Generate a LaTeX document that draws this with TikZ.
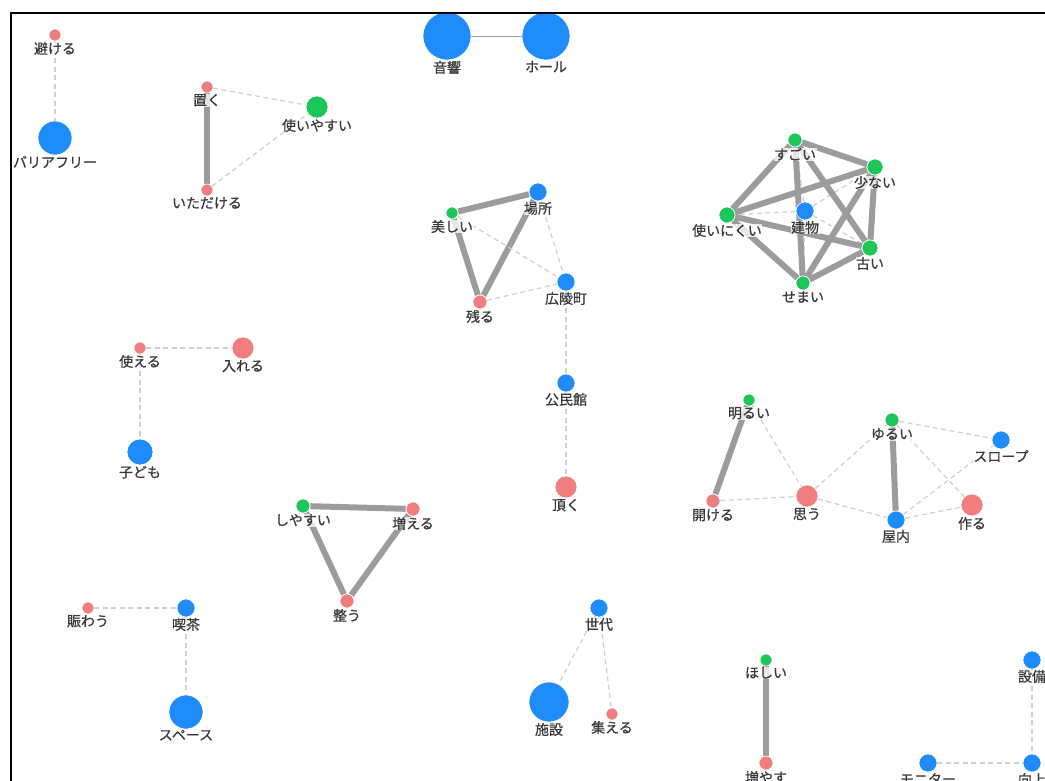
\documentclass[tikz,border=0pt]{standalone}
\usepackage{fontspec}
\newfontfamily\jp[FakeBold=0.6]{Noto Sans CJK JP}
\usetikzlibrary{backgrounds}
\definecolor{cblue}{HTML}{1E8CFA}
\definecolor{cred}{HTML}{F07E7E}
\definecolor{cgreen}{HTML}{1CC75A}
\definecolor{cstrong}{HTML}{9C9C9C}
\definecolor{cweak}{HTML}{CFCFCF}
\definecolor{ctext}{HTML}{3A3A3A}
\newcommand\Nd[6]{\node[vtx,fill=#5,minimum size=#4*2pt,label={[lbl]below:#6}] (#1) at (#2,#3) {};}
\begin{document}
\begin{tikzpicture}[x=1pt,y=-1pt,
  vtx/.style={circle,draw=white,line width=0.6pt,inner sep=0pt,label distance=0.5pt},
  lbl/.style={font=\jp\fontsize{14}{15}\selectfont,text=ctext,inner sep=0.5pt,fill=white,fill opacity=0.75,text opacity=1},
  strong/.style={draw=cstrong,line width=6pt},
  weak/.style={draw=cweak,line width=1.2pt,dash pattern=on 5pt off 3.5pt},
  thin/.style={draw=cstrong,line width=0.9pt}]
\useasboundingbox (0,0) rectangle (1045,780);
\begin{scope}
\clip (11,13) rectangle (1045,780);
\Nd{a1}{55}{35}{6}{cred}{避ける}
\Nd{a2}{55}{138}{17}{cblue}{バリアフリー}
\Nd{b1}{207}{87}{6}{cred}{置く}
\Nd{b2}{317}{107}{11}{cgreen}{使いやすい}
\Nd{b3}{207}{190}{6}{cred}{いただける}
\Nd{c1}{447}{36}{24}{cblue}{音響}
\Nd{c2}{546}{36}{24}{cblue}{ホール}
\Nd{d1}{795}{140}{7}{cgreen}{すごい}
\Nd{d2}{875}{167}{8}{cgreen}{少ない}
\Nd{d3}{727}{215}{8}{cgreen}{使いにくい}
\Nd{d4}{805}{211}{9}{cblue}{建物}
\Nd{d5}{870}{248}{8}{cgreen}{古い}
\Nd{d6}{803}{283}{7}{cgreen}{せまい}
\Nd{e1}{538}{192}{9}{cblue}{場所}
\Nd{e2}{452}{213}{6}{cgreen}{美しい}
\Nd{e3}{566}{282}{9}{cblue}{広陵町}
\Nd{e4}{480}{302}{7}{cred}{残る}
\Nd{e5}{566}{383}{9}{cblue}{公民館}
\Nd{e6}{566}{487}{11}{cred}{頂く}
\Nd{f1}{140}{348}{6}{cred}{使える}
\Nd{f2}{243}{348}{11}{cred}{入れる}
\Nd{f3}{140}{452}{13}{cblue}{子ども}
\Nd{g1}{303}{506}{7}{cgreen}{しやすい}
\Nd{g2}{413}{509}{7}{cred}{増える}
\Nd{g3}{347}{601}{7}{cred}{整う}
\Nd{h1}{749}{400}{6}{cgreen}{明るい}
\Nd{h2}{713}{501}{7}{cred}{開ける}
\Nd{h3}{807}{496}{11}{cred}{思う}
\Nd{h4}{892}{420}{7}{cgreen}{ゆるい}
\Nd{h5}{1001}{440}{9}{cblue}{スロープ}
\Nd{h6}{896}{520}{9}{cblue}{屋内}
\Nd{h7}{972}{505}{11}{cred}{作る}
\Nd{i1}{88}{608}{6}{cred}{賑わう}
\Nd{i2}{186}{608}{9}{cblue}{喫茶}
\Nd{i3}{186}{712}{17}{cblue}{スペース}
\Nd{j1}{599}{608}{9}{cblue}{世代}
\Nd{j2}{549}{702}{20}{cblue}{施設}
\Nd{j3}{612}{714}{6}{cred}{集える}
\Nd{k1}{766}{660}{6}{cgreen}{ほしい}
\Nd{k2}{766}{763}{7}{cred}{増やす}
\Nd{m1}{1032}{660}{9}{cblue}{設備}
\Nd{m2}{928}{763}{9}{cblue}{モニター}
\Nd{m3}{1032}{763}{9}{cblue}{向上}
\begin{scope}[on background layer]
\draw[weak] (a1) -- (a2);
\draw[strong] (b1) -- (b3);
\draw[weak] (b1) -- (b2);
\draw[weak] (b3) -- (b2);
\draw[thin] (c1) -- (c2);
\draw[weak] (d4) -- (d3);
\draw[weak] (d4) -- (d2);
\draw[weak] (d4) -- (d5);
\draw[weak] (d4) -- (d1);
\draw[weak] (d4) -- (d6);
\draw[strong] (d1) -- (d2);
\draw[strong] (d1) -- (d3);
\draw[strong] (d1) -- (d5);
\draw[strong] (d1) -- (d6);
\draw[strong] (d2) -- (d3);
\draw[strong] (d2) -- (d5);
\draw[strong] (d2) -- (d6);
\draw[strong] (d3) -- (d5);
\draw[strong] (d3) -- (d6);
\draw[strong] (d5) -- (d6);
\draw[strong] (e2) -- (e1);
\draw[strong] (e2) -- (e4);
\draw[strong] (e1) -- (e4);
\draw[weak] (e2) -- (e3);
\draw[weak] (e1) -- (e3);
\draw[weak] (e4) -- (e3);
\draw[weak] (e3) -- (e5);
\draw[weak] (e5) -- (e6);
\draw[weak] (f1) -- (f2);
\draw[weak] (f1) -- (f3);
\draw[strong] (g1) -- (g2);
\draw[strong] (g1) -- (g3);
\draw[strong] (g2) -- (g3);
\draw[strong] (h1) -- (h2);
\draw[weak] (h1) -- (h3);
\draw[weak] (h2) -- (h3);
\draw[weak] (h3) -- (h4);
\draw[weak] (h3) -- (h6);
\draw[strong] (h4) -- (h6);
\draw[weak] (h4) -- (h5);
\draw[weak] (h4) -- (h7);
\draw[weak] (h6) -- (h5);
\draw[weak] (h6) -- (h7);
\draw[weak] (i1) -- (i2);
\draw[weak] (i2) -- (i3);
\draw[weak] (j1) -- (j2);
\draw[weak] (j1) -- (j3);
\draw[strong] (k1) -- (k2);
\draw[weak] (m1) -- (m3);
\draw[weak] (m2) -- (m3);
\end{scope}
\end{scope}
\draw[line width=2.6pt,line cap=rect] (11,781) -- (11,13) -- (1046,13);
\end{tikzpicture}
\end{document}
